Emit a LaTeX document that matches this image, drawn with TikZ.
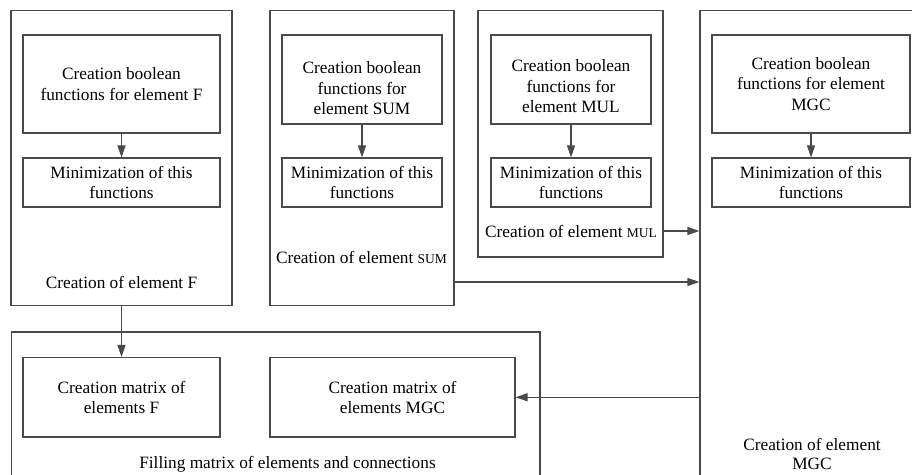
\documentclass[tikz,border=0pt]{standalone}
\usepackage{fontspec}
\setmainfont{Liberation Serif}
\usetikzlibrary{arrows.meta,calc}
\definecolor{ln}{HTML}{4A4A4A}
\tikzset{
  box/.style={draw=ln, line width=1.1bp, rectangle, inner sep=0pt, align=center, text=black},
  txt/.style={inner sep=0pt, align=center, text=black},
  arr/.style={draw=ln, line width=1.1bp, -{Triangle[length=12bp,width=8bp]}},
}
\newcommand{\sm}[1]{{\fontsize{13.5bp}{15bp}\selectfont #1}}
\begin{document}
\begin{tikzpicture}[x=1bp,y=-1bp,font=\fontsize{17.3bp}{20.5bp}\selectfont]
\useasboundingbox (0,0) rectangle (912,475);
\clip (0,0) rectangle (912,475);
% outer boxes
\node[box, minimum width=221bp, minimum height=295bp] (fo) at (121.5,158.2) {};
\node[box, minimum width=184bp, minimum height=295bp] (so) at (362,158.2) {};
\node[box, minimum width=185bp, minimum height=246.3bp] (uo) at (570.5,133.85) {};
\node[box, minimum width=230bp, minimum height=489.3bp] (go) at (815,255.35) {};
\node[box, minimum width=528.2bp, minimum height=168bp] (bo) at (275.9,416) {};
% inner boxes
\node[box, minimum width=197bp, minimum height=98bp] (f1) at (121.5,84) {Creation boolean\\functions for element F};
\node[box, minimum width=197bp, minimum height=49bp] (f2) at (121.5,182.5) {Minimization of this\\functions};
\node[box, minimum width=160bp, minimum height=89bp] (s1) at (362,79.5) {};
\node[txt] at ([yshift=-9bp]s1.center) {Creation boolean\\functions for\\element SUM};
\node[box, minimum width=160bp, minimum height=49bp] (s2) at (362,182.5) {Minimization of this\\functions};
\node[box, minimum width=160bp, minimum height=89bp] (u1) at (571,79.5) {};
\node[txt] at ([yshift=-7bp]u1.center) {Creation boolean\\functions for\\element MUL};
\node[box, minimum width=160bp, minimum height=49bp] (u2) at (571,182.5) {Minimization of this\\functions};
\node[box, minimum width=198bp, minimum height=98bp] (g1) at (811,84) {Creation boolean\\functions for element\\MGC};
\node[box, minimum width=198bp, minimum height=49bp] (g2) at (811,182.5) {Minimization of this\\functions};
\node[box, minimum width=197bp, minimum height=79.5bp] (fm) at (121.5,397.25) {Creation matrix of\\elements F};
\node[box, minimum width=245bp, minimum height=79.5bp] (gm) at (392.5,397.25) {Creation matrix of\\elements MGC};
% labels
\node[txt] (fl) at (121.5,282) {Creation of element F};
\node[txt] (sl) at (361.5,257) {Creation of element \sm{SUM}};
\node[txt] (ul) at (571,231) {Creation of element \sm{MUL}};
\node[txt, font=\fontsize{17.3bp}{18.5bp}\selectfont] (gl) at (812,454) {Creation of element\\MGC};
\node[txt] (bl) at (287.5,464) {Filling matrix of elements and connections};
\coordinate (sy) at (0,282);
% connectors
\draw[arr] (f1) -- (f2);
\draw[arr] (s1) -- (s2);
\draw[arr] (u1) -- (u2);
\draw[arr] (g1) -- (g2);
\draw[arr] (fo) -- (fm);
\draw[arr] (so.east |- sy) -- (go.west |- sy);
\draw[arr] (uo.east |- ul) -- (go.west |- ul);
\draw[arr] (go.west |- gm) -- (gm.east);
\end{tikzpicture}
\end{document}
